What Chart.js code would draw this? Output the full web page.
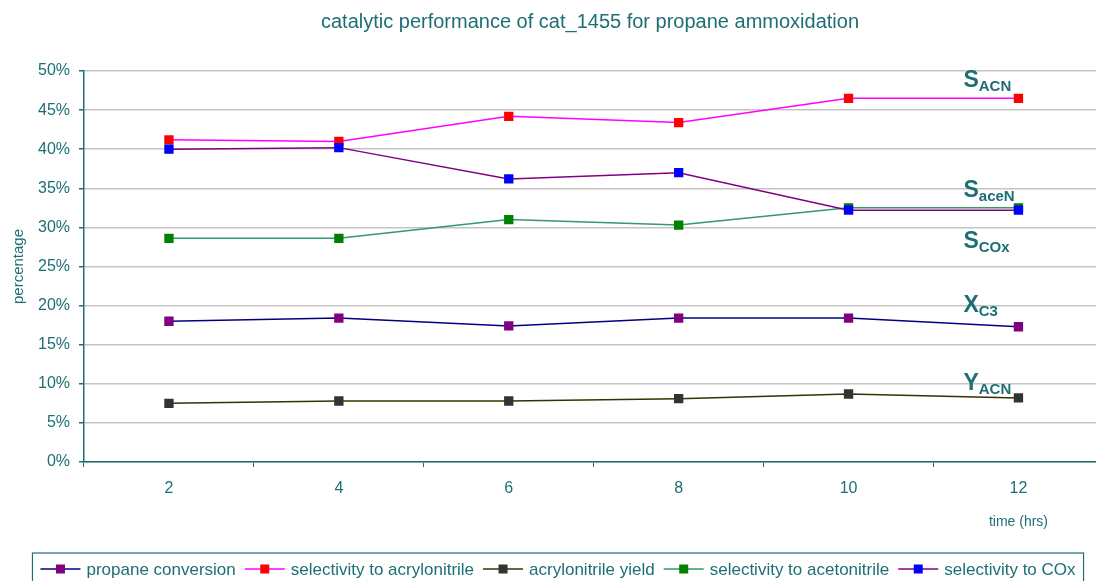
<!DOCTYPE html>
<html>
<head>
<meta charset="utf-8">
<title>cat_1455 propane ammoxidation</title>
<script src="https://cdn.jsdelivr.net/npm/chart.js@4/dist/chart.umd.min.js"></script>
<style>
  body { margin: 0; overflow: hidden; background: #fff; }
  #wrap { width: 1110px; height: 581px; position: relative; }
</style>
</head>
<body>
<div id="wrap"><canvas id="myChart"></canvas></div>
<script>
// time on stream (hrs)
var hours = ["2", "4", "6", "8", "10", "12"];

// values in percent
var propaneConversion = [18.0, 18.4, 17.4, 18.4, 18.4, 17.3];
var selAcrylonitrile = [41.2, 41.0, 44.2, 43.4, 46.5, 46.5];
var acrylonitrileYield = [7.5, 7.8, 7.8, 8.1, 8.7, 8.2];
var selAcetonitrile = [28.6, 28.6, 31.0, 30.3, 32.5, 32.5];
var selCOx = [40.0, 40.2, 36.2, 37.0, 32.2, 32.2];

var yTicks = [0, 5, 10, 15, 20, 25, 30, 35, 40, 45, 50];

// labels next to the curves: main letter, subscript, height in %
var curveLabels = [
    ["S", "ACN", 48.9],
    ["S", "aceN", 34.8],
    ["S", "COx", 28.3],
    ["X", "C3", 20.1],
    ["Y", "ACN", 10.1]
];

var teal = "#1d6f74";
var font = "'Liberation Sans', Arial, sans-serif";

function makeSet(label, values, lineColor, markColor, order) {
    return {
        label: label,
        data: values,
        borderColor: lineColor,
        backgroundColor: markColor,
        pointBackgroundColor: markColor,
        pointBorderColor: markColor,
        pointStyle: "rect",
        pointRadius: 6.6,
        pointBorderWidth: 0,
        borderWidth: 1.5,
        tension: 0,
        order: order
    };
}

// title, x axis title, curve labels and the boxed legend
var extras = {
    id: "extras",
    afterDraw(chart) {
        let ctx = chart.ctx;
        let x = chart.scales.x;
        let y = chart.scales.y;
        ctx.save();

        ctx.fillStyle = teal;
        ctx.font = "20px " + font;
        ctx.textAlign = "center";
        ctx.textBaseline = "middle";
        ctx.fillText("catalytic performance of cat_1455 for propane ammoxidation", 590, 22);

        ctx.font = "14px " + font;
        ctx.textAlign = "right";
        ctx.fillText("time (hrs)", 1048, 522);

        // curve labels, placed left of the last point
        let lx = x.getPixelForValue(hours.length - 1) - 55;
        ctx.textAlign = "left";
        ctx.textBaseline = "alphabetic";
        curveLabels.forEach(function (l) {
            let ly = y.getPixelForValue(l[2]) + 7;
            ctx.font = "bold 23px " + font;
            ctx.fillText(l[0], lx, ly);
            let w = ctx.measureText(l[0]).width;
            ctx.font = "bold 15px " + font;
            ctx.fillText(l[1], lx + w, ly + 4);
        });

        // legend
        ctx.font = "17px " + font;
        let items = chart.data.datasets.map(function (d) {
            return { d: d, w: ctx.measureText(d.label).width };
        });
        let seg = 40, gap = 6, sep = 9, pad = 8;
        let total = 0;
        items.forEach(function (it, i) {
            total += seg + gap + it.w + (i < items.length - 1 ? sep : 0);
        });
        let bx = 558 - total / 2 - pad;
        let by = 553;
        ctx.strokeStyle = teal;
        ctx.lineWidth = 1.2;
        ctx.strokeRect(bx, by, total + pad * 2, 40);
        let cx = bx + pad;
        let cy = 569;
        ctx.textBaseline = "middle";
        items.forEach(function (it) {
            ctx.strokeStyle = it.d.borderColor;
            ctx.lineWidth = 1.5;
            ctx.beginPath();
            ctx.moveTo(cx, cy);
            ctx.lineTo(cx + seg, cy);
            ctx.stroke();
            ctx.fillStyle = it.d.pointBackgroundColor;
            ctx.fillRect(cx + seg / 2 - 4.5, cy - 4.5, 9, 9);
            ctx.fillStyle = teal;
            ctx.fillText(it.d.label, cx + seg + gap, cy + 1);
            cx += seg + gap + it.w + sep;
        });
        ctx.restore();
    }
};

var data = {
    labels: hours,
    datasets: [
        makeSet("propane conversion", propaneConversion, "#000080", "#800080", 4),
        makeSet("selectivity to acrylonitrile", selAcrylonitrile, "#ff00ff", "#ff0000", 3),
        makeSet("acrylonitrile yield", acrylonitrileYield, "#333300", "#333333", 2),
        makeSet("selectivity to acetonitrile", selAcetonitrile, "#339966", "#008000", 1),
        makeSet("selectivity to COx", selCOx, "#800080", "#0000ff", 0)
    ]
};

var config = {
    type: "line",
    data,
    options: {
        responsive: true,
        maintainAspectRatio: false,
        animation: false,
        layout: { padding: { top: 71, right: 6, left: 0, bottom: 0 } },
        plugins: {
            legend: { display: false },
            title: { display: false },
            tooltip: { enabled: false }
        },
        scales: {
            x: {
                offset: true,
                afterFit: function (s) { s.height = 119; },
                border: { color: teal, width: 1.5 },
                grid: {
                    offset: true,
                    drawOnChartArea: false,
                    drawTicks: true,
                    tickLength: 5,
                    tickColor: teal
                },
                ticks: {
                    color: teal,
                    padding: 12,
                    font: { family: font, size: 16 }
                }
            },
            y: {
                min: 0,
                max: 50,
                afterFit: function (s) { s.width = 84; },
                afterBuildTicks: function (s) {
                    s.ticks = yTicks.map(function (v) { return { value: v }; });
                },
                border: { color: teal, width: 1.5 },
                grid: {
                    color: "#c4c4c4",
                    lineWidth: 1.5,
                    tickLength: 5,
                    tickColor: teal
                },
                ticks: {
                    color: teal,
                    padding: 9,
                    font: { family: font, size: 16 },
                    callback: function (v) { return v + "%"; }
                },
                title: {
                    display: true,
                    text: "percentage",
                    color: teal,
                    padding: { top: 10, bottom: 0 },
                    font: { family: font, size: 15 }
                }
            }
        }
    },
    plugins: [extras]
};

var myChart = new Chart(document.getElementById("myChart"), config);
</script>
</body>
</html>
